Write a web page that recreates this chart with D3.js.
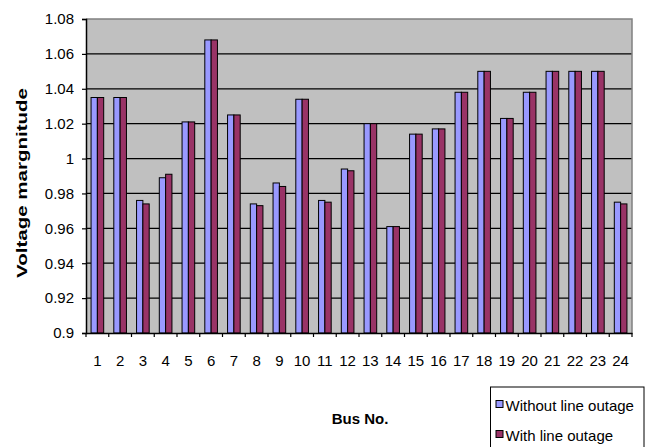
<!DOCTYPE html>
<html>
<head>
<meta charset="utf-8">
<script src="https://cdn.jsdelivr.net/npm/d3@7"></script>
<style>
  html, body { margin: 0; padding: 0; background: #fff; }
  svg { display: block; font-family: "Liberation Sans", Arial, sans-serif; }
</style>
</head>
<body>
<svg id="chart" width="655" height="447"></svg>
<script>
const buses = ["1","2","3","4","5","6","7","8","9","10","11","12","13","14","15","16","17","18","19","20","21","22","23","24"];
const seriesNames = ["Without line outage", "With line outage"];
const withoutOutage = [1.035,1.035,0.976,0.989,1.021,1.068,1.025,0.974,0.986,1.034,0.976,0.994,1.020,0.961,1.014,1.017,1.038,1.050,1.023,1.038,1.050,1.050,1.050,0.975];
const withOutage    = [1.035,1.035,0.974,0.991,1.021,1.068,1.025,0.973,0.984,1.034,0.975,0.993,1.020,0.961,1.014,1.017,1.038,1.050,1.023,1.038,1.050,1.050,1.050,0.974];
const yTicks = [0.9,0.92,0.94,0.96,0.98,1,1.02,1.04,1.06,1.08];
const yTickLabels = ["0.9","0.92","0.94","0.96","0.98","1","1.02","1.04","1.06","1.08"];
const colors = ["#9999FF", "#993366"];

const svg = d3.select("#chart");
const L = 86, R = 632, T = 19, B = 333;

const x0 = d3.scaleBand().domain(buses).range([L, R]).paddingInner(0).paddingOuter(0);
const x1 = d3.scaleBand().domain(seriesNames).range([0, x0.bandwidth()]).paddingInner(0).paddingOuter(0.8);
const y = d3.scaleLinear().domain([0.9, 1.08]).range([B, T]);

// plot background
svg.append("rect").attr("x", L).attr("y", T).attr("width", R - L).attr("height", B - T).attr("fill", "#C0C0C0");

// gridlines
svg.append("g").selectAll("line").data(yTicks.filter(v => v > 0.9 && v < 1.08)).join("line")
  .attr("x1", L).attr("x2", R).attr("y1", d => y(d)).attr("y2", d => y(d))
  .attr("stroke", "#000").attr("stroke-width", 1.3);

// plot border top/right
svg.append("path").attr("d", `M${L},${T}H${R}V${B}`).attr("fill", "none").attr("stroke", "#808080").attr("stroke-width", 1.5);

// bars
const data = buses.map((b, i) => ({ bus: b, vals: [withoutOutage[i], withOutage[i]] }));
const groups = svg.append("g").selectAll("g").data(data).join("g")
  .attr("transform", d => `translate(${x0(d.bus)},0)`);
groups.selectAll("rect").data(d => d.vals.map((v, k) => ({ v, k }))).join("rect")
  .attr("x", d => x1(seriesNames[d.k]))
  .attr("width", x1.bandwidth())
  .attr("y", d => y(d.v))
  .attr("height", d => B - y(d.v))
  .attr("fill", d => colors[d.k])
  .attr("stroke", "#000").attr("stroke-width", 1);

// y axis
const yAxis = d3.axisLeft(y).tickValues(yTicks).tickSize(4).tickPadding(8)
  .tickFormat((d, i) => yTickLabels[i]);
const gy = svg.append("g").attr("transform", `translate(${L},0)`).call(yAxis);
gy.select(".domain").attr("stroke", "#000").attr("stroke-width", 1.5);
gy.selectAll(".tick line").attr("stroke", "#000").attr("stroke-width", 1.2);
gy.selectAll(".tick text").attr("font-size", 15).attr("font-family", "Liberation Sans, Arial, sans-serif").attr("fill", "#000");

// x axis
const xAxis = d3.axisBottom(x0).tickSize(0).tickPadding(22);
const gx = svg.append("g").attr("transform", `translate(0,${B})`).call(xAxis);
gx.select(".domain").attr("stroke", "#000").attr("stroke-width", 1.5);
gx.selectAll(".tick text").attr("font-size", 15).attr("font-family", "Liberation Sans, Arial, sans-serif").attr("fill", "#000");
// tick marks between categories
const boundaries = buses.map(b => x0(b)).concat([R]);
gx.append("g").selectAll("line").data(boundaries).join("line")
  .attr("x1", d => d).attr("x2", d => d).attr("y1", 0).attr("y2", 4)
  .attr("stroke", "#000").attr("stroke-width", 1.2);

// axis titles
svg.append("text").attr("transform", "translate(26.5,183) rotate(-90)")
  .attr("text-anchor", "middle").attr("font-size", 15).attr("font-weight", "bold")
  .attr("textLength", 190).attr("lengthAdjust", "spacingAndGlyphs")
  .text("Voltage  margnitude");
svg.append("text").attr("x", 360).attr("y", 424).attr("text-anchor", "middle")
  .attr("font-size", 15).attr("font-weight", "bold").text("Bus No.");

// legend
const lg = svg.append("g");
lg.append("rect").attr("x", 490.5).attr("y", 387).attr("width", 153.5).attr("height", 70)
  .attr("fill", "#fff").attr("stroke", "#000").attr("stroke-width", 1);
const items = lg.selectAll("g").data(seriesNames).join("g")
  .attr("transform", (d, i) => `translate(0,${i * 30})`);
items.append("rect").attr("x", 496).attr("y", 400.5).attr("width", 7).attr("height", 7)
  .attr("fill", (d, i) => colors[i]).attr("stroke", "#000").attr("stroke-width", 1);
items.append("text").attr("x", 505.5).attr("y", 411).attr("font-size", 15).attr("fill", "#000").text(d => d);
</script>
</body>
</html>
